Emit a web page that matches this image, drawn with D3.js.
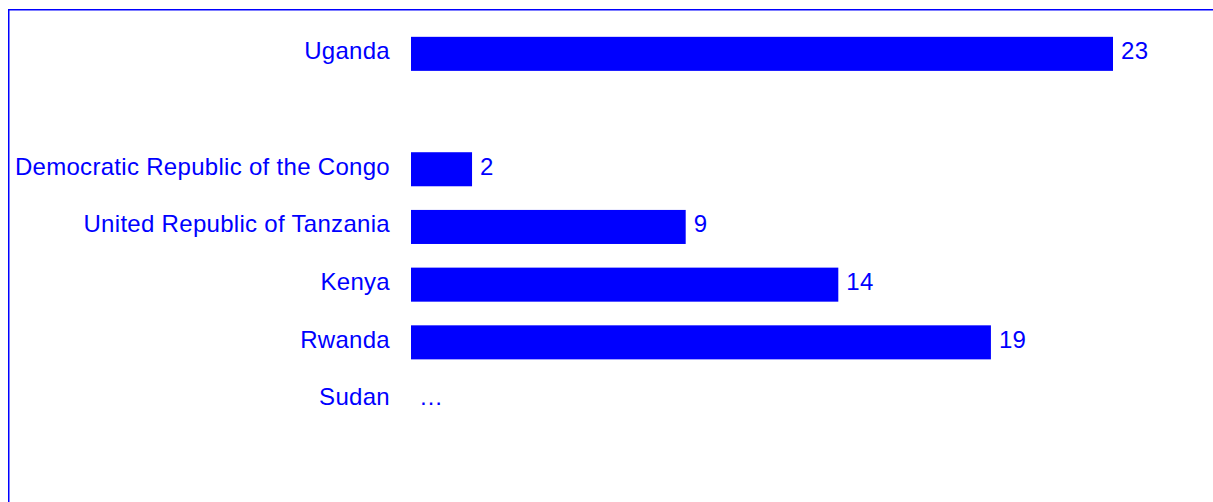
<!DOCTYPE html>
<html>
<head>
<meta charset="utf-8">
<script src="https://cdn.jsdelivr.net/npm/d3@7"></script>
<style>
  html, body { margin: 0; padding: 0; background: #fff; }
  svg { display: block; }
  text { font-family: "Liberation Sans", Arial, sans-serif; }
</style>
</head>
<body>
<div id="chart"></div>
<script>
// Row order as laid out top to bottom; empty names are spacer rows.
const countries = ["Uganda", "", "Democratic Republic of the Congo", "United Republic of Tanzania", "Kenya", "Rwanda", "Sudan", ""];
// null marks a country with no data ("…"); spacer rows are skipped.
const values = [23, null, 2, 9, 14, 19, null, null];

const W = 1213, H = 502;
const blue = "#0000ff";
const fontSize = 24;
const spacing = "0.3px";

const svg = d3.select("#chart").append("svg")
  .attr("width", W).attr("height", H);

// Frame around the plot area (runs off the right and bottom edges)
svg.append("rect")
  .attr("x", 8.75).attr("y", 9.75)
  .attr("width", W + 20).attr("height", H + 20)
  .attr("fill", "none")
  .attr("stroke", blue)
  .attr("stroke-width", 1.5);

const rows = countries.map((name, i) => ({ key: String(i), name, value: values[i] }));

const x = d3.scaleLinear().domain([0, 23]).range([411, 1113]);
const y = d3.scaleBand()
  .domain(rows.map(d => d.key))
  .range([25, 25 + 8 * 57.7])
  .paddingInner(0.41)
  .paddingOuter(0.205);

// Category labels
const axis = d3.axisLeft(y)
  .tickSize(0)
  .tickPadding(21)
  .tickFormat(k => rows[+k].name);

const gAxis = svg.append("g")
  .attr("transform", `translate(${x(0)},0)`)
  .call(axis);
gAxis.select(".domain").remove();
gAxis.selectAll("text")
  .attr("font-size", fontSize)
  .attr("font-family", "'Liberation Sans', Arial, sans-serif")
  .attr("letter-spacing", spacing)
  .attr("fill", blue)
  .attr("dy", "0.22em");

// Bars
const withValue = rows.filter(d => d.value != null);
svg.append("g").selectAll("rect")
  .data(withValue)
  .join("rect")
  .attr("x", x(0))
  .attr("y", d => y(d.key))
  .attr("width", d => x(d.value) - x(0))
  .attr("height", y.bandwidth())
  .attr("fill", blue);

// Value labels, and "…" for named countries without data
const labelled = rows.filter(d => d.name !== "");
svg.append("g").selectAll("text")
  .data(labelled)
  .join("text")
  .attr("x", d => (d.value != null ? x(d.value) : x(0)) + 8)
  .attr("y", d => y(d.key) + y.bandwidth() / 2)
  .attr("dy", "0.22em")
  .attr("font-size", fontSize)
  .attr("letter-spacing", spacing)
  .attr("fill", blue)
  .text(d => d.value != null ? d.value : "…");
</script>
</body>
</html>
